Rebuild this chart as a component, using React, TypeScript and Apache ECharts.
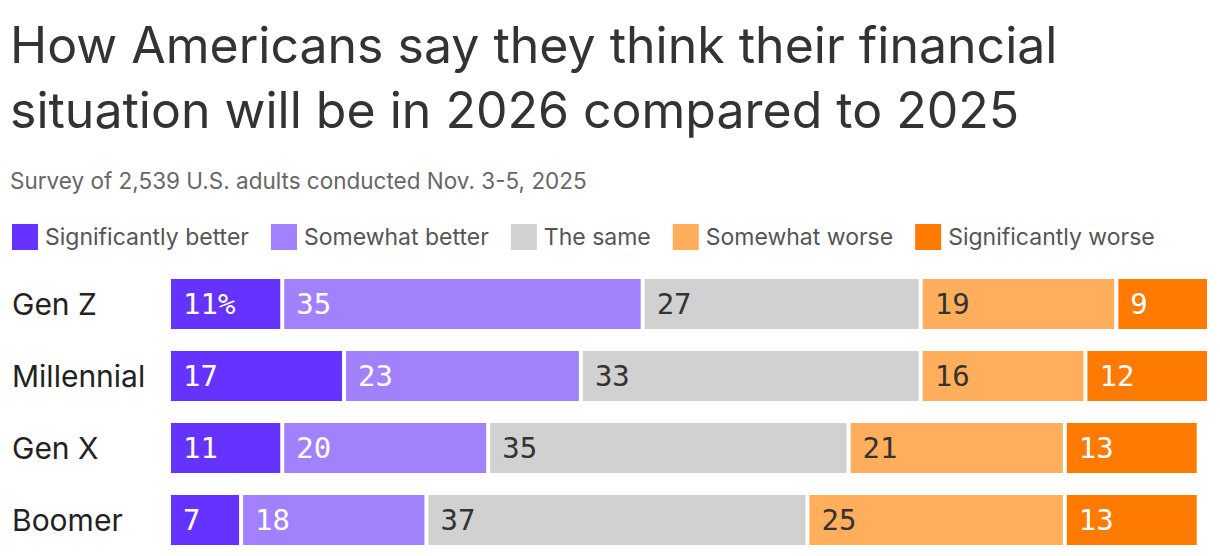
import React, { useEffect, useRef } from 'react';
import * as echarts from 'echarts';

const TEXT_FONT = 'Inter, "Noto Sans", sans-serif';
const NUM_FONT = '"DejaVu Sans Mono", "Liberation Mono", monospace';

const generations = ['Gen Z', 'Millennial', 'Gen X', 'Boomer'];
const seriesNames = [
  'Significantly better',
  'Somewhat better',
  'The same',
  'Somewhat worse',
  'Significantly worse',
];
const sigBetter = [11, 17, 11, 7];
const someBetter = [35, 23, 20, 18];
const theSame = [27, 33, 35, 37];
const someWorse = [19, 16, 21, 25];
const sigWorse = [9, 12, 13, 13];

const COLORS = ['#6533ff', '#a182fc', '#d0d1d0', '#ffae5c', '#ff7a00'];
const LABEL_COLORS = ['#ffffff', '#ffffff', '#333333', '#333333', '#ffffff'];

const App: React.FC = () => {
  const divEL = useRef<HTMLDivElement>(null);

  useEffect(() => {
    const instance = echarts.init(divEL.current as any, null, { renderer: 'svg' });
    const values = [sigBetter, someBetter, theSame, someWorse, sigWorse];

    const option: echarts.EChartsOption = {
      animation: false,
      color: COLORS,
      title: [
        {
          text: 'How Americans say they think their financial\nsituation will be in 2026 compared to 2025',
          left: 10,
          top: 12,
          padding: 0,
          textStyle: {
            fontFamily: TEXT_FONT,
            fontSize: 50,
            fontWeight: 'normal',
            lineHeight: 65,
            color: '#333333',
          },
        },
        {
          text: 'Survey of 2,539 U.S. adults conducted Nov. 3-5, 2025',
          left: 10,
          top: 169,
          padding: 0,
          textStyle: {
            fontFamily: TEXT_FONT,
            fontSize: 22.5,
            fontWeight: 'normal',
            color: '#666666',
          },
        },
      ],
      legend: {
        left: 10,
        top: 222,
        padding: 0,
        itemWidth: 28,
        itemHeight: 28,
        itemGap: 20,
        icon: 'rect',
        textStyle: {
          fontFamily: TEXT_FONT,
          fontSize: 23,
          color: '#555555',
          padding: [0, 0, 0, 1],
        },
        data: seriesNames,
      },
      grid: {
        left: 169,
        right: 11,
        top: 268,
        bottom: 0,
      },
      xAxis: {
        type: 'value',
        min: 0,
        max: 101,
        show: false,
      },
      yAxis: {
        type: 'category',
        inverse: true,
        data: generations,
        axisLine: { show: false },
        axisTick: { show: false },
        axisLabel: {
          fontFamily: TEXT_FONT,
          fontSize: 30,
          color: '#222222',
          align: 'left',
          margin: 157,
        },
      },
      series: seriesNames.map((name, i) => ({
        name,
        type: 'bar',
        stack: 'total',
        barWidth: 54,
        data: values[i],
        itemStyle: {
          color: COLORS[i],
          borderColor: '#ffffff',
          borderWidth: 2,
        },
        label: {
          show: true,
          position: 'insideLeft',
          distance: 14,
          fontFamily: NUM_FONT,
          fontSize: 29,
          color: LABEL_COLORS[i],
          formatter: (p: any) =>
            i === 0 && p.dataIndex === 0 ? `${p.value}%` : `${p.value}`,
        },
      })),
    };

    instance.setOption(option);
    return () => {
      instance.dispose();
    };
  }, []);

  return (
    <div
      ref={divEL}
      style={{ position: 'absolute', left: 0, top: 0, width: 1220, height: 556 }}
    ></div>
  );
};

export default App;
